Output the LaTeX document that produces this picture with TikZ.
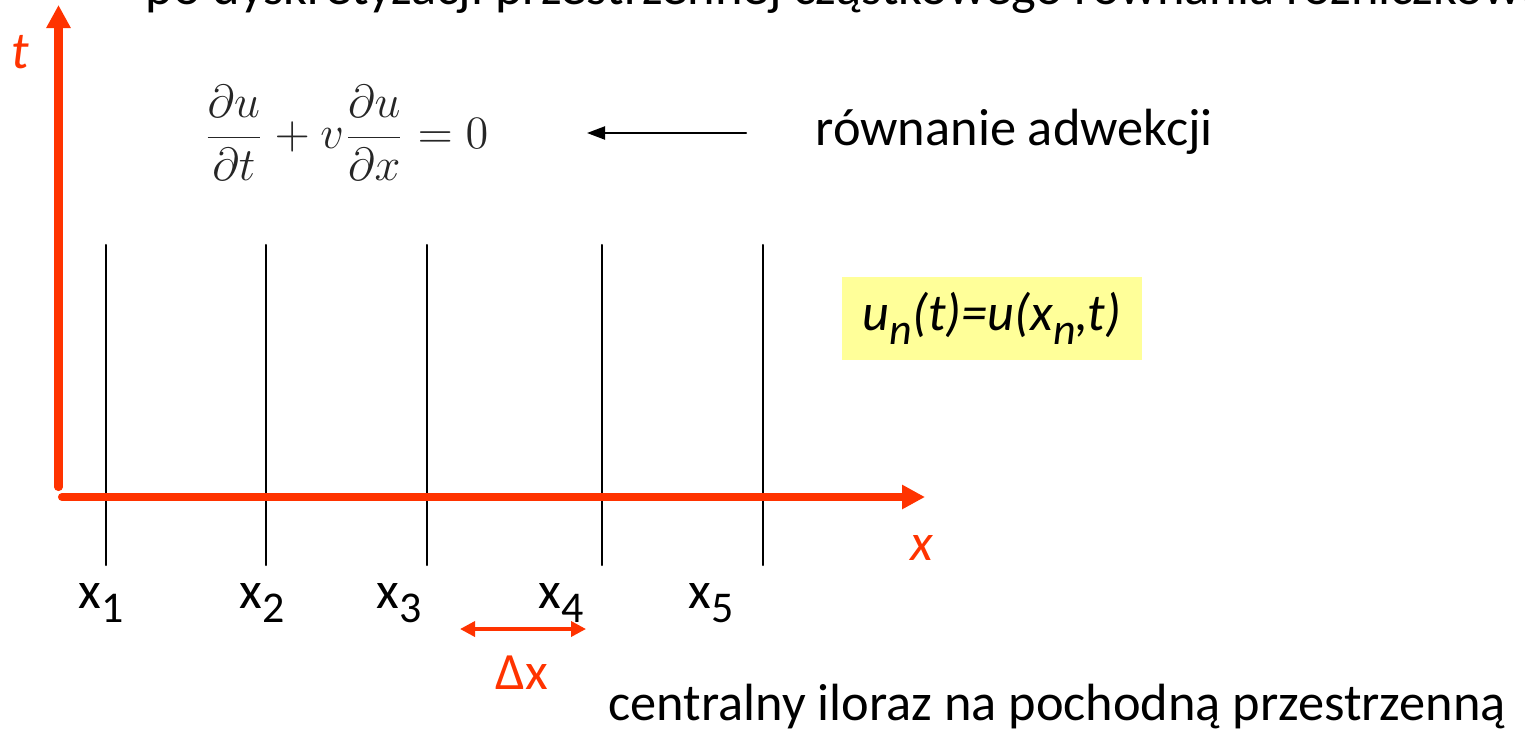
\RequirePackage{fix-cm}
\documentclass[tikz,border=0pt]{standalone}
\usepackage[no-math]{fontspec}
\setmainfont{Carlito}
\usepackage{tkz-euclide}
\usetikzlibrary{arrows.meta,calc}
\definecolor{AxisClr}{HTML}{FF3300}
\definecolor{BoxClr}{HTML}{FFFF99}
\newcommand\lblfont{\fontsize{14.9pt}{18pt}\selectfont}
\newcommand\xsub[1]{\raisebox{-.28em}{\fontsize{12.5pt}{14pt}\selectfont #1}}

\begin{document}
\begin{tikzpicture}[x=1cm,y=1cm]
\useasboundingbox (0,0) rectangle (15.25,7.32);
\tkzSetUpLine[line width=0.6pt,color=black]

\tkzDefPoints{0.585/2.45/T0,0.585/7.27/T1,0.62/2.35/X0,9.25/2.35/X1}
\tkzDefPoints{1.06/1.67/A1,2.66/1.67/A2,4.27/1.67/A3,6.02/1.67/A4,7.63/1.67/A5}
\tkzDefPoints{1.06/4.87/B1,2.66/4.87/B2,4.27/4.87/B3,6.02/4.87/B4,7.63/4.87/B5}
\tkzDefPoints{4.60/1.03/D0,5.86/1.03/D1,7.46/5.99/E0,5.87/5.99/E1}

% grid lines
\tkzDrawSegments(A1,B1 A2,B2 A3,B3 A4,B4 A5,B5)

% axes
\tkzDrawSegments[color=AxisClr,line width=2.3pt,-{Triangle[width=0.23cm,length=0.23cm]}](T0,T1 X0,X1)
\tkzDrawSegment[color=AxisClr,line width=1pt,{Triangle[width=0.15cm,length=0.15cm]}-{Triangle[width=0.15cm,length=0.15cm]}](D0,D1)
\tkzDrawSegment[-{Triangle[width=0.13cm,length=0.18cm]}](E0,E1)

\node[font=\lblfont\itshape,text=AxisClr] (tlbl) at (0.20,6.80) {t};
\node[font=\lblfont\itshape,text=AxisClr] (xlbl) at (9.22,1.84) {x};

\node[anchor=base west,inner sep=0,font=\lblfont] (x1) at (0.78,1.24) {x\xsub{1}};
\node[anchor=base west,inner sep=0,font=\lblfont] (x2) at (2.39,1.24) {x\xsub{2}};
\node[anchor=base west,inner sep=0,font=\lblfont] (x3) at (3.76,1.24) {x\xsub{3}};
\node[anchor=base west,inner sep=0,font=\lblfont] (x4) at (5.38,1.24) {x\xsub{4}};
\node[anchor=base west,inner sep=0,font=\lblfont] (x5) at (6.88,1.24) {x\xsub{5}};
\node[anchor=base west,inner sep=0,font=\lblfont,text=AxisClr] (dx) at (4.95,0.43) {Δx};

\node[font=\fontsize{13.2pt}{16pt}\selectfont,text=black!85] (eq) at (3.46,5.99)
  {$\displaystyle\frac{\partial u}{\partial t}+v\frac{\partial u}{\partial x}=0$};
\node[anchor=base west,inner sep=0,font=\lblfont] (adv) at (8.15,5.87) {równanie adwekcji};
\node[fill=BoxClr,minimum width=3cm,minimum height=0.83cm,inner sep=0,font=\lblfont\itshape] (unbox) at (9.92,4.135)
  {u\xsub{n}(t)=u(x\xsub{n},t)};
\node[anchor=base west,inner sep=0,font=\lblfont] (cdiff) at (6.08,0.12) {centralny iloraz na pochodną przestrzenną};
\node[anchor=base west,inner sep=0,font=\lblfont] (title) at (1.45,7.28) {po dyskretyzacji przestrzennej cząstkowego równania różniczkowego};

\end{tikzpicture}
\end{document}
